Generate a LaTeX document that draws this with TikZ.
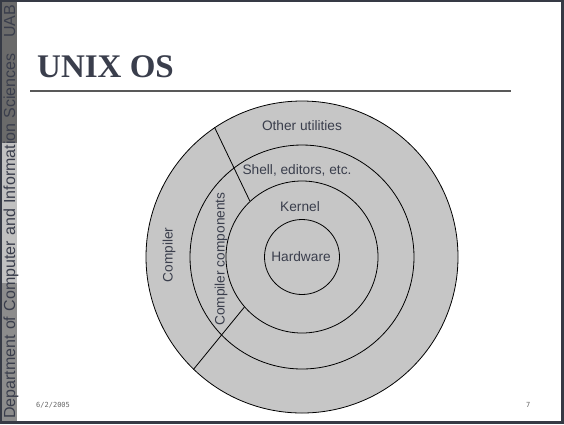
\documentclass[tikz,border=0pt]{standalone}
\usepackage{fontspec}
\setmainfont{Liberation Serif}
\setsansfont{Liberation Sans}
\setmonofont{DejaVu Sans Mono}
\definecolor{frame}{HTML}{363A45}
\definecolor{inkc}{HTML}{3A3E4C}
\definecolor{ringfill}{HTML}{C6C6C6}
\definecolor{stripA}{HTML}{6A6A6A}
\definecolor{stripB}{HTML}{C0C0C0}
\definecolor{stripC}{HTML}{8C8C8C}
\tikzset{
  ring/.style={circle, draw=black, line width=0.8pt, inner sep=0pt, minimum size=#1},
  lbl/.style={font=\sffamily\fontsize{13.7}{15}\selectfont, text=inkc, inner sep=0pt},
  divider/.style={draw=black, line width=0.8pt},
}
\begin{document}
\begin{tikzpicture}[x=1pt,y=-1pt]
\useasboundingbox (0,0) rectangle (564,424);
% frame
\fill[frame] (0,0) rectangle (564,424);
\fill[white] (2,2) rectangle (561,421);
\fill[stripA] (2,2) rectangle (17,143);
\fill[stripB] (2,143) rectangle (17,283);
\fill[stripC] (2,283) rectangle (17,421);
\node[rotate=90, anchor=base west, inner sep=0pt, text width=414pt,
      font=\sffamily\fontsize{16}{18}\selectfont, text=inkc] (dept) at (15,419)
  {Department of Computer and Information Sciences\hfill UAB};
% title
\node[anchor=base west, inner sep=0pt, font=\bfseries\fontsize{33}{36}\selectfont, text=inkc] (title) at (37,77) {UNIX OS};
\coordinate (rl) at (30,91);
\coordinate (rr) at (511,91);
\draw[line width=1.6pt, draw=black!65] (rl) -- (rr);
% rings
\node[ring=312pt, fill=ringfill] (outer) at (302,257) {};
\node[ring=224pt] (shell) at (302,257) {};
\node[ring=152pt] (kernel) at (302,257) {};
\node[ring=75pt] (hw) at (302,257) {};
\draw[divider] (outer.124.3) -- (kernel.133.4);
\draw[divider] (kernel.221.8) -- (outer.226.8);
% labels
\node[lbl] (lo) at (302,126) {Other utilities};
\node[lbl] (ls) at (297,170) {Shell, editors, etc.};
\node[lbl] (lk) at (300,207) {Kernel};
\node[lbl] (lh) at (301,257) {Hardware};
\node[lbl, rotate=90] (lc) at (169,255) {Compiler};
\node[lbl, rotate=90] (lcc) at (221,259) {Compiler components};
% footer
\node[anchor=base west, inner sep=0pt, font=\ttfamily\fontsize{7}{8}\selectfont, text=black!60] (date) at (36,407) {6/2/2005};
\node[anchor=base west, inner sep=0pt, font=\ttfamily\fontsize{7}{8}\selectfont, text=black!60] (page) at (526,407) {7};
\end{tikzpicture}
\end{document}
